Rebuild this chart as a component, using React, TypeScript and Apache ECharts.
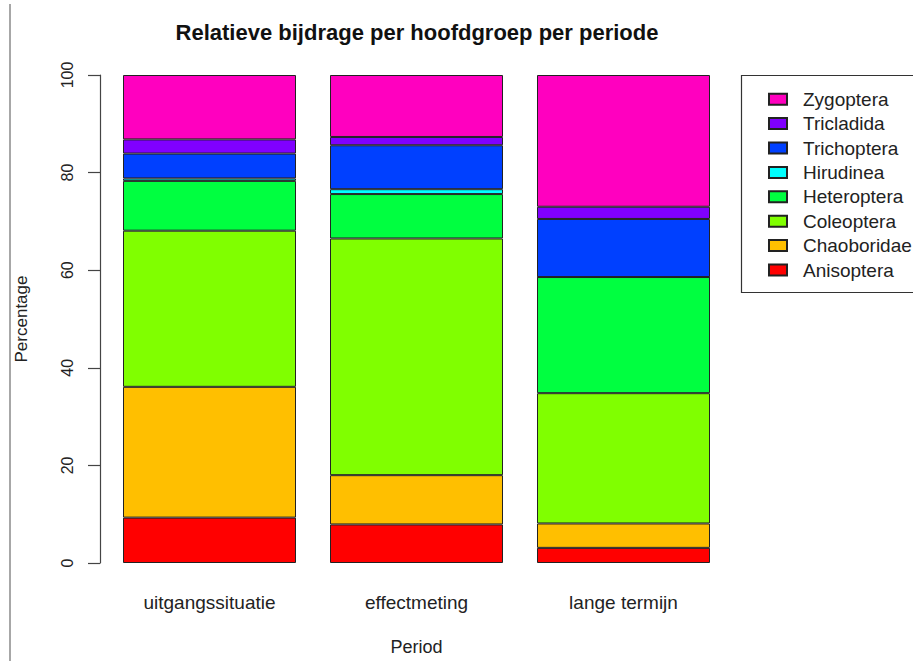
import React, { useEffect, useRef } from "react";
import * as echarts from "echarts";

const categories = ["uitgangssituatie", "effectmeting", "lange termijn"];
const yTicks = [0, 20, 40, 60, 80, 100];

const anisoptera = [9.3, 7.9, 3.1];
const chaoboridae = [26.8, 10.1, 5.0];
const coleoptera = [32.0, 48.5, 26.7];
const heteroptera = [10.2, 9.1, 23.8];
const hirudinea = [0.5, 1.0, 0];
const trichoptera = [5.1, 9.0, 11.9];
const tricladida = [2.9, 1.7, 2.5];
const zygoptera = [13.2, 12.7, 27.0];

const groupNames = [
  "Anisoptera",
  "Chaoboridae",
  "Coleoptera",
  "Heteroptera",
  "Hirudinea",
  "Trichoptera",
  "Tricladida",
  "Zygoptera",
];
const groupValues = [
  anisoptera,
  chaoboridae,
  coleoptera,
  heteroptera,
  hirudinea,
  trichoptera,
  tricladida,
  zygoptera,
];
const groupColors = [
  "#FF0000",
  "#FFBF00",
  "#80FF00",
  "#00FF40",
  "#00FFFF",
  "#0040FF",
  "#8000FF",
  "#FF00BF",
];

const FONT = "Liberation Sans, Arial, sans-serif";

export default function App() {
  const ref = useRef<HTMLDivElement>(null);
  useEffect(() => {
    if (!ref.current) return;
    const chart = echarts.init(ref.current, undefined, { renderer: "svg" });
    chart.setOption({
      animation: false,
      backgroundColor: "#ffffff",
      textStyle: { fontFamily: FONT },
      title: {
        text: "Relatieve bijdrage per hoofdgroep per periode",
        left: 412,
        textAlign: "center",
        top: 16,
        textStyle: { fontFamily: FONT, fontSize: 22, fontWeight: "bold", color: "#111" },
      },
      legend: {
        orient: "vertical",
        left: 763,
        top: 84,
        data: groupNames.slice().reverse(),
        icon: "rect",
        itemWidth: 18,
        itemHeight: 11,
        itemGap: 4,
        textStyle: {
          fontFamily: FONT,
          fontSize: 19,
          color: "#222",
          lineHeight: 20.4,
          padding: [0, 0, 0, 11],
        },
      },
      grid: { left: 106, top: 75, width: 621, height: 493 },
      xAxis: {
        type: "category",
        data: categories,
        axisLine: { show: false },
        axisTick: { show: false },
        axisLabel: { fontFamily: FONT, fontSize: 19, color: "#222", margin: 30 },
        name: "Period",
        nameLocation: "middle",
        nameGap: 75,
        nameTextStyle: { fontFamily: FONT, fontSize: 18, color: "#222" },
      },
      yAxis: {
        type: "value",
        min: yTicks[0],
        max: yTicks[yTicks.length - 1],
        interval: 20,
        offset: 6,
        splitLine: { show: false },
        axisLine: { show: true, lineStyle: { color: "#444", width: 1.2 } },
        axisTick: { show: true, length: 12, lineStyle: { color: "#444", width: 1.2 } },
        axisLabel: {
          fontFamily: FONT,
          fontSize: 16,
          color: "#222",
          rotate: 90,
          margin: 25,
        },
        name: "Percentage",
        nameLocation: "middle",
        nameRotate: 90,
        nameGap: 70,
        nameTextStyle: { fontFamily: FONT, fontSize: 17, color: "#222" },
      },
      graphic: [
        {
          type: "line",
          shape: { x1: 10, y1: 4, x2: 10, y2: 661 },
          style: { stroke: "#8a8a8a", lineWidth: 1.5 },
        },
        {
          type: "rect",
          shape: { x: 741.5, y: 75.5, width: 200, height: 217 },
          style: { fill: "none", stroke: "#333", lineWidth: 1.2 },
        },
      ],
      series: groupNames.map((name, i) => ({
        name,
        type: "bar",
        stack: "total",
        barWidth: 173,
        data: groupValues[i],
        itemStyle: { color: groupColors[i], borderColor: "#222", borderWidth: 1 },
      })),
    });
    return () => chart.dispose();
  }, []);
  return (
    <div
      ref={ref}
      style={{ position: "fixed", left: 0, top: 0, width: 913, height: 661 }}
    />
  );
}
